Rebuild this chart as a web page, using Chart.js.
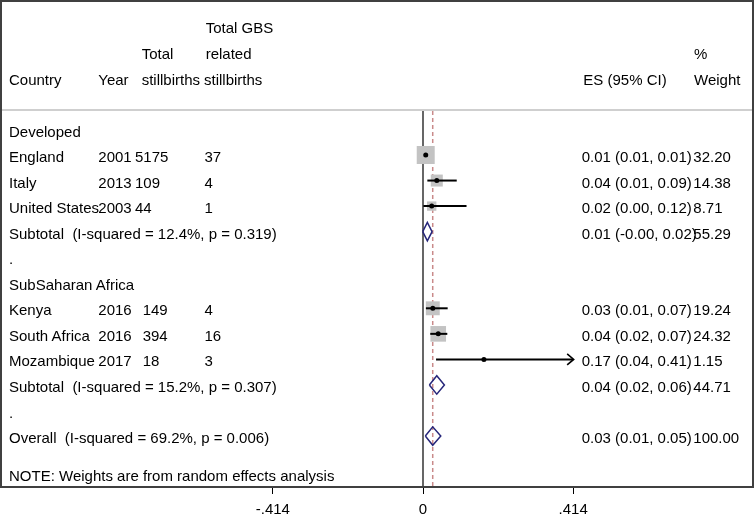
<!DOCTYPE html>
<html><head><meta charset="utf-8">
<script src="https://cdn.jsdelivr.net/npm/chart.js@4.4.0/dist/chart.umd.min.js"></script>
<style>
html,body{margin:0;padding:0;background:#fff;}
#wrap{position:relative;width:755px;height:515px;overflow:hidden;font-family:"Liberation Sans",Arial,sans-serif;font-size:15px;color:#000;background:#fff;}
#c{position:absolute;left:0;top:0;}
.t{position:absolute;white-space:pre;line-height:18px;}
#frame{position:absolute;left:0;top:0;width:750px;height:484px;border:2px solid #404040;}
#sep{position:absolute;left:2px;top:109px;width:750px;height:2px;background:#cfcfcf;}
</style></head><body>
<div id="wrap"><canvas id="c" width="755" height="515"></canvas><div id="sep"></div><div id="frame"></div></div>
<script>
// ---- data ----
const countries = ['England','Italy','United States','Kenya','South Africa','Mozambique'];
const years = ['2001','2013','2003','2016','2016','2017'];
const totalStillbirths = ['5175','109','44','149','394','18'];
const gbsStillbirths = ['37','4','1','4','16','3'];
const studyRows = [1,2,3,7,8,9];
const studyES = [0.0075,0.038,0.024,0.027,0.042,0.168];
const studyLo = [0.006,0.012,0.001,0.008,0.020,0.036];
const studyHi = [0.010,0.093,0.120,0.068,0.067,0.415];
const studyWeights = [32.20,14.38,8.71,19.24,24.32,1.15];
const studyESLabels = ['0.01 (0.01, 0.01)','0.04 (0.01, 0.09)','0.02 (0.00, 0.12)','0.03 (0.01, 0.07)','0.04 (0.02, 0.07)','0.17 (0.04, 0.41)'];
const studyWeightLabels = ['32.20','14.38','8.71','19.24','24.32','1.15'];

const pooledRows = [4,10,12];
const pooledLabels = ['Subtotal  (I-squared = 12.4%, p = 0.319)','Subtotal  (I-squared = 15.2%, p = 0.307)','Overall  (I-squared = 69.2%, p = 0.006)'];
const pooledES = [0.012,0.038,0.0268];
const pooledLo = [-0.0008,0.0175,0.0064];
const pooledHi = [0.025,0.059,0.049];
const pooledESLabels = ['0.01 (-0.00, 0.02)','0.04 (0.02, 0.06)','0.03 (0.01, 0.05)'];
const pooledWeightLabels = ['55.29','44.71','100.00'];

const groupRows = [0,6];
const groupLabels = ['Developed','SubSaharan Africa'];
const dotRows = [5,11];
const noteRow = 13.5;
const noteText = 'NOTE: Weights are from random effects analysis';

const tickValues = [-0.414,0,0.414];
const tickLabels = ['-.414','0','.414'];
const overallES = pooledES[2];
const clipMax = 0.414;

// ---- layout (px) ----
const PX_PER_UNIT = 362.7, ZERO_PX = 423, W = 755, PLOT_BOTTOM = 487;
const ROW0_PX = 129.45, ROW_PX = 25.55;
const xMin = -ZERO_PX / PX_PER_UNIT, xMax = (W - ZERO_PX) / PX_PER_UNIT;
const yMin = -ROW0_PX / ROW_PX, yMax = (PLOT_BOTTOM - ROW0_PX) / ROW_PX;
const DIAMOND_HALF = 0.36;

const datasets = [];
datasets.push({ // dots
  data: studyES.map((e,i)=>({x:e,y:studyRows[i]})),
  pointStyle:'circle', pointRadius:2.5, backgroundColor:'#000', borderWidth:0
});
studyES.forEach((e,i)=>{
  datasets.push({
    data:[{x:studyLo[i],y:studyRows[i]},{x:Math.min(studyHi[i],clipMax),y:studyRows[i]}],
    showLine:true, borderColor:'#000', borderWidth:2, pointRadius:0
  });
});
pooledES.forEach((e,i)=>{
  const r = pooledRows[i];
  datasets.push({
    data:[{x:pooledLo[i],y:r},{x:e,y:r-DIAMOND_HALF},{x:pooledHi[i],y:r},{x:e,y:r+DIAMOND_HALF},{x:pooledLo[i],y:r}],
    showLine:true, borderColor:'#26267a', borderWidth:1.5, pointRadius:0, fill:false, tension:0
  });
});
datasets.push({ // weight squares
  data: studyES.map((e,i)=>({x:e,y:studyRows[i]})),
  pointStyle:'rect', pointRadius: studyWeights.map(w=>2.24*Math.sqrt(w)),
  backgroundColor:'#c3c3c3', borderWidth:0
});

const refLines = {
  id:'refLines',
  beforeDatasetsDraw(chart){
    const {ctx, chartArea} = chart; const xs = chart.scales.x;
    const top = 111, bottom = chartArea.bottom;
    ctx.save();
    ctx.strokeStyle='#000'; ctx.lineWidth=1.2;
    const x0 = xs.getPixelForValue(0);
    ctx.beginPath(); ctx.moveTo(x0,top); ctx.lineTo(x0,bottom); ctx.stroke();
    ctx.strokeStyle='#c98a8a'; ctx.lineWidth=1.5; ctx.setLineDash([4,3]);
    const xe = xs.getPixelForValue(overallES);
    ctx.beginPath(); ctx.moveTo(xe,top); ctx.lineTo(xe,bottom); ctx.stroke();
    ctx.restore();
  },
  afterDatasetsDraw(chart){
    const {ctx} = chart; const xs = chart.scales.x, ys = chart.scales.y;
    ctx.save(); ctx.strokeStyle='#000'; ctx.lineWidth=1.6;
    studyHi.forEach((h,i)=>{
      if (h > clipMax) {
        const xp = xs.getPixelForValue(clipMax), yp = ys.getPixelForValue(studyRows[i]);
        ctx.beginPath(); ctx.moveTo(xp-6,yp-5.5); ctx.lineTo(xp+0.5,yp); ctx.lineTo(xp-6,yp+5.5); ctx.stroke();
      }
    });
    ctx.restore();
  }
};

const chart = new Chart(document.getElementById('c'), {
  type:'scatter',
  data:{datasets},
  options:{
    responsive:false, animation:false, events:[],
    layout:{padding:0, autoPadding:false},
    plugins:{legend:{display:false}, tooltip:{enabled:false}},
    scales:{
      x:{type:'linear', min:xMin, max:xMax, position:'bottom',
         afterBuildTicks(s){ s.ticks = tickValues.map(v=>({value:v})); },
         afterFit(s){ s.height = 515 - PLOT_BOTTOM; s.paddingLeft = 0; s.paddingRight = 0; },
         grid:{drawOnChartArea:false, drawTicks:true, tickLength:7, color:'#000', lineWidth:1},
         border:{display:false},
         ticks:{color:'#000', padding:7, maxRotation:0, autoSkip:false,
                font:{family:'"Liberation Sans", Arial, sans-serif', size:15},
                callback(v){ const k = tickValues.indexOf(v); return k>=0 ? tickLabels[k] : ''; }}
      },
      y:{type:'linear', display:false, reverse:true, min:yMin, max:yMax}
    }
  },
  plugins:[refLines]
});

// ---- text ----
const wrap = document.getElementById('wrap');
function txt(s, x, cy){
  const d = document.createElement('div'); d.className='t'; d.textContent=s;
  d.style.left = x+'px'; d.style.top = (cy-8.83)+'px'; wrap.appendChild(d);
}
const ys = chart.scales.y;
const rowY = r => ys.getPixelForValue(r) + 1.9;
// header
txt('Total GBS',205.7,28);
txt('Total',141.7,53.8); txt('related',205.7,53.8); txt('%',694,53.8);
txt('Country',9,79.5); txt('Year',98.3,79.5); txt('stillbirths',141.7,79.5); txt('stillbirths',204,79.5);
txt('ES (95% CI)',583.3,79.5); txt('Weight',694,79.5);
groupLabels.forEach((g,i)=>txt(g,9,rowY(groupRows[i])));
dotRows.forEach(r=>txt('.',9,rowY(r)));
countries.forEach((c,i)=>{
  const y = rowY(studyRows[i]);
  txt(c,9,y); txt(years[i],98.3,y);
  txt(totalStillbirths[i], i<3 ? 135 : 142.7, y);
  txt(gbsStillbirths[i],204.5,y);
  txt(studyESLabels[i],581.7,y); txt(studyWeightLabels[i],693.3,y);
});
pooledLabels.forEach((p,i)=>{
  const y = rowY(pooledRows[i]);
  txt(p,9,y); txt(pooledESLabels[i],581.7,y); txt(pooledWeightLabels[i],693.3,y);
});
txt(noteText,9,rowY(noteRow));
</script></body></html>
